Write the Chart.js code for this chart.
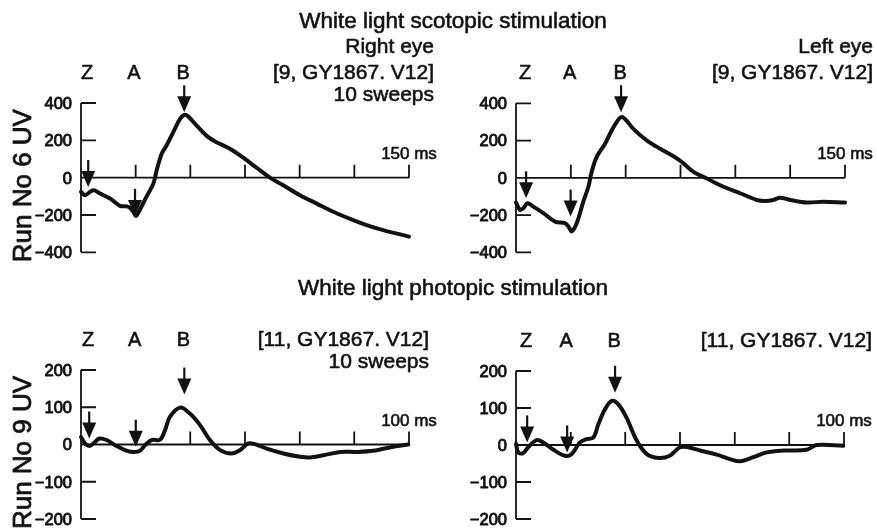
<!DOCTYPE html>
<html><head><meta charset="utf-8">
<script src="https://cdn.jsdelivr.net/npm/chart.js@4.4.1/dist/chart.umd.min.js"></script>
<style>
html,body{margin:0;padding:0;background:#fff;width:877px;height:530px;overflow:hidden}
canvas{position:absolute;left:0;top:0}
</style></head>
<body>
<canvas id="c0" width="877" height="530"></canvas>
<canvas id="c1" width="877" height="530"></canvas>
<canvas id="c2" width="877" height="530"></canvas>
<canvas id="c3" width="877" height="530"></canvas>
<script>
// ---------- data ----------
const scotRightMs = [0,1.8,5.6,8.7,13.3,17.8,21.6,23.9,25.1,27,29.9,33.1,34.6,36.9,39.1,42.2,45.3,47.2,49.1,52.9,58.2,62,68.1,74.2,80.3,86.4,92.5,100.1,107.8,115.4,124.5,130.6,138.2,150];
const scotRightUV = [-76,-94,-68,-85,-112,-151,-156,-183,-206,-171,-103,-32,39,128,172,244,315,336,327,279,217,190,155,107,53,0,-41,-94,-139,-183,-228,-254,-281,-316];

const scotLeftMs = [0,1.8,3.3,5.2,7.9,12.5,17.8,22.3,23.9,25.4,27.7,30.7,33,34.5,36.8,40.6,43.6,45.9,47.7,49.7,53.5,59.6,65.7,71.8,75.6,80.9,87,94.6,102.2,109.8,113.6,117.3,120.4,125,132.6,140.2,150];
const scotLeftUV = [-133,-172,-164,-137,-155,-190,-235,-243,-261,-288,-243,-128,-48,32,112,183,254,299,325,316,263,201,156,116,85,32,-4,-48,-83,-119,-124,-119,-107,-119,-133,-128,-133];

const photRightMs = [0,1.2,2.5,3.8,5.6,7.8,10.4,13.4,15.9,18,19.5,21.5,24.1,25.6,27.1,30.2,33.2,36.3,39.3,42.4,45.9,48.5,51,53,56.6,61.7,66.8,69.8,73.9,79,84,89.1,95.2,99.8];
const photRightUV = [20,3,-4,3,16,12,-2,-15,-20,-17,-2,12,13,38,74,99,83,52,12,-15,-24,-15,3,1,-11,-24,-33,-35,-29,-20,-20,-17,-6,0];

const photLeftMs = [0,0.7,2.2,3.7,6.3,8.3,11.4,14.9,17,19.5,21.5,23.6,25.1,27.1,29.2,31.2,33.7,36.8,39.8,43.4,46.9,50,52.5,56.1,61.2,65.2,68.3,72.4,76.4,81.5,88.6,91.7,99.8];
const photLeftUV = [3,-20,-22,-6,13,7,-13,-29,-24,7,16,20,56,96,119,110,74,12,-24,-35,-29,-6,-6,-15,-26,-38,-44,-33,-20,-15,-13,0,-2];

const markerNames = ['Z','A','B'];
const scotRightMarkMs = [3.3,24.7,47.2];  const scotRightMarkUV = [-50,-205,350];
const scotLeftMarkMs  = [4.6,24.9,47.9];  const scotLeftMarkUV  = [-110,-208,352];
const photRightMarkMs = [2.5,16.7,31.5];  const photRightMarkUV = [16,-6,134];
const photLeftMarkMs  = [3.4,15.6,30.2];  const photLeftMarkUV  = [7,-20,141];

const scotYTicks = [-400,-200,0,200,400];
const scotYLabels = ['\u2212400','\u2212200','0','200','400'];
const photYTicks = [-200,-100,0,100,200];
const photYLabels = ['\u2212200','\u2212100','0','100','200'];
const scotXTicks = [0,25,50,75,100,125,150];
const photXTicks = [0,16.7,33.3,50,66.7,83.3,100];

// ---------- drawing ----------
const INK = '#121212';
const FONT = '"Liberation Sans", Arial, Helvetica, sans-serif';

function txt(ctx, s, x, cy, size, align, weight) {
  ctx.font = size + 'px ' + FONT;
  ctx.textAlign = align;
  ctx.textBaseline = 'alphabetic';
  const by = cy + 0.358 * size;
  ctx.fillText(s, x, by);
  ctx.lineWidth = weight == null ? 0.6 : weight;
  ctx.lineJoin = 'round';
  ctx.strokeText(s, x, by);
}

const panelPlugin = {
  id: 'panel',
  beforeDatasetsDraw(chart, args, o) {
    const {ctx, scales: {x, y}} = chart;
    const xs = o.xTicks, ys = o.yTicks;
    const left = x.getPixelForValue(xs[0]), right = x.getPixelForValue(xs[xs.length - 1]);
    const y0 = y.getPixelForValue(0);
    const yTop = y.getPixelForValue(ys[ys.length - 1]), yBot = y.getPixelForValue(ys[0]);
    ctx.save();
    ctx.strokeStyle = INK; ctx.fillStyle = INK; ctx.lineWidth = 1.8;
    ctx.beginPath();
    ctx.moveTo(left, yTop); ctx.lineTo(left, yBot);
    ys.forEach(v => { const p = y.getPixelForValue(v); ctx.moveTo(left, p); ctx.lineTo(left + 15, p); });
    ctx.moveTo(left, y0); ctx.lineTo(right, y0);
    xs.slice(1).forEach(v => { const p = x.getPixelForValue(v); ctx.moveTo(p, y0); ctx.lineTo(p, y0 - 13); });
    ctx.stroke();
    ys.forEach((v, i) => txt(ctx, o.yLabels[i], left - 9, y.getPixelForValue(v), 16.5, 'right', 0.9));
    txt(ctx, o.endLabel, right, y0 - 25, 17, 'center');
    if (o.yTitle) {
      ctx.save();
      ctx.translate(22, y0 + 8);
      ctx.rotate(-Math.PI / 2);
      txt(ctx, o.yTitle, 0, 0, 26, 'center', 0.8);
      ctx.restore();
    }
    if (o.title) txt(ctx, o.title, 453, yTop - 83, 22.5, 'center');
    o.sideText.forEach((s, i) => { if (s) txt(ctx, s, right + o.sideDx, yTop + [-58, -32, -10][i], 21, 'right'); });
    ctx.restore();
  },
  afterDatasetsDraw(chart, args, o) {
    const {ctx, scales: {x, y}} = chart;
    const yTop = y.getPixelForValue(o.yTicks[o.yTicks.length - 1]);
    ctx.save();
    ctx.strokeStyle = INK; ctx.fillStyle = INK;
    o.markMs.forEach((t, i) => {
      const px = x.getPixelForValue(t), tip = y.getPixelForValue(o.markUV[i]);
      const len = 27, hh = 16, hw = 14;
      ctx.lineWidth = 2.2;
      ctx.beginPath(); ctx.moveTo(px, tip - len); ctx.lineTo(px, tip - hh + 1); ctx.stroke();
      ctx.beginPath(); ctx.moveTo(px - hw / 2, tip - hh); ctx.lineTo(px + hw / 2, tip - hh); ctx.lineTo(px, tip); ctx.closePath(); ctx.fill();
      txt(ctx, markerNames[i], px - 1, yTop - 31, 20, 'center');
    });
    ctx.restore();
  }
};

function panel(id, area, ms, uv, o) {
  const xs = o.xTicks, ys = o.yTicks;
  new Chart(document.getElementById(id), {
    type: 'line',
    data: { datasets: [{
      data: ms.map((t, i) => ({x: t, y: uv[i]})),
      borderColor: INK, borderWidth: 4, pointRadius: 0, tension: 0.35,
      borderJoinStyle: 'round', borderCapStyle: 'round', fill: false, clip: false
    }] },
    options: {
      responsive: false, animation: false, events: [],
      layout: { padding: { left: area.l, top: area.t, right: 877 - area.r, bottom: 530 - area.b } },
      scales: {
        x: { type: 'linear', min: xs[0], max: xs[xs.length - 1], display: false },
        y: { type: 'linear', min: ys[0], max: ys[ys.length - 1], display: false }
      },
      plugins: { legend: {display: false}, tooltip: {enabled: false}, panel: o }
    },
    plugins: [panelPlugin]
  });
}

panel('c0', {l: 81, r: 409, t: 103, b: 252.3}, scotRightMs, scotRightUV, {
  xTicks: scotXTicks, yTicks: scotYTicks, yLabels: scotYLabels, endLabel: '150 ms',
  yTitle: 'Run No 6 UV', title: 'White light scotopic stimulation', sideDx: 25,
  sideText: ['Right eye', '[9, GY1867. V12]', '10 sweeps'], markMs: scotRightMarkMs, markUV: scotRightMarkUV });
panel('c1', {l: 516, r: 845, t: 103.3, b: 252.3}, scotLeftMs, scotLeftUV, {
  xTicks: scotXTicks, yTicks: scotYTicks, yLabels: scotYLabels, endLabel: '150 ms',
  yTitle: null, title: null, sideDx: 28,
  sideText: ['Left eye', '[9, GY1867. V12]', ''], markMs: scotLeftMarkMs, markUV: scotLeftMarkUV });
panel('c2', {l: 81, r: 409, t: 370, b: 519}, photRightMs, photRightUV, {
  xTicks: photXTicks, yTicks: photYTicks, yLabels: photYLabels, endLabel: '100 ms',
  yTitle: 'Run No 9 UV', title: 'White light photopic stimulation', sideDx: 20,
  sideText: ['', '[11, GY1867. V12]', '10 sweeps'], markMs: photRightMarkMs, markUV: photRightMarkUV });
panel('c3', {l: 516, r: 844, t: 371, b: 519}, photLeftMs, photLeftUV, {
  xTicks: photXTicks, yTicks: photYTicks, yLabels: photYLabels, endLabel: '100 ms',
  yTitle: null, title: null, sideDx: 28,
  sideText: ['', '[11, GY1867. V12]', ''], markMs: photLeftMarkMs, markUV: photLeftMarkUV });
</script>
</body></html>
